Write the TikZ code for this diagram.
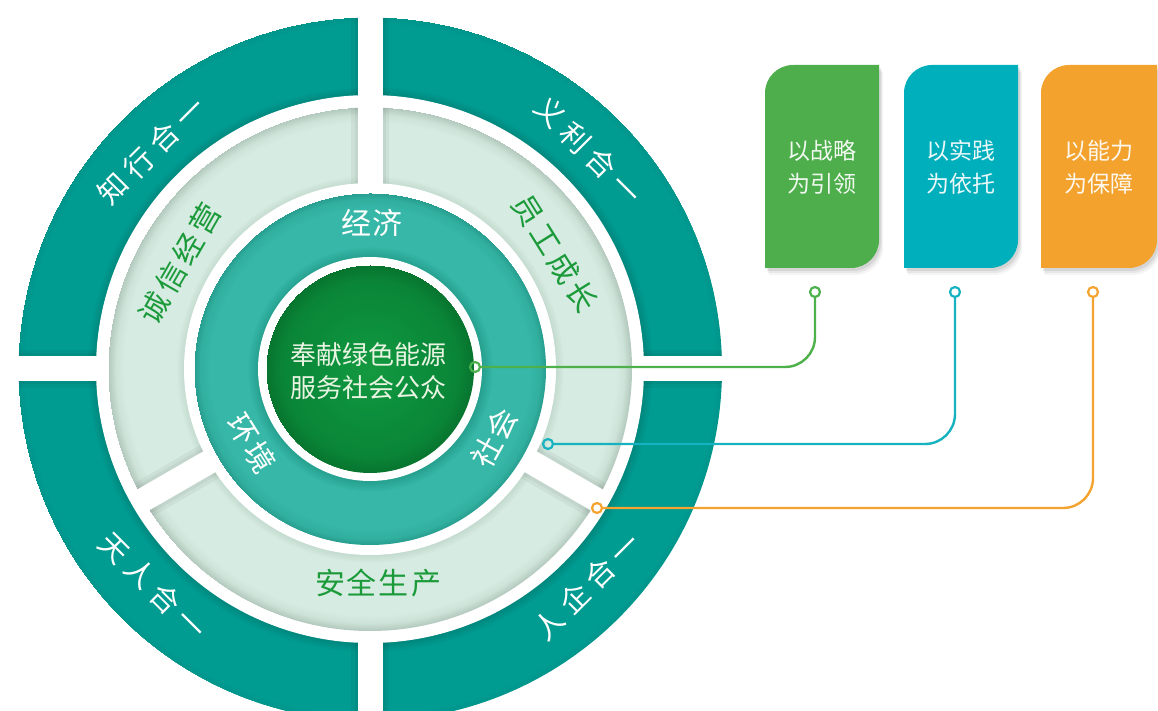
\documentclass[tikz,border=0pt]{standalone}
\usepackage{fontspec}
\setmainfont{Noto Sans CJK SC}
\usetikzlibrary{calc}

\definecolor{oA}{HTML}{00877D}
\definecolor{oB}{HTML}{009B91}
\definecolor{oC}{HTML}{00958B}
\definecolor{lA}{HTML}{C4DBCF}
\definecolor{lB}{HTML}{D6EBE1}
\definecolor{lC}{HTML}{CEE3D8}
\definecolor{lD}{HTML}{B3C8BD}
\definecolor{tA}{HTML}{26A08F}
\definecolor{tB}{HTML}{36B7A7}
\definecolor{tC}{HTML}{31AF9F}
\definecolor{tD}{HTML}{279D8E}
\definecolor{gA}{HTML}{14993F}
\definecolor{gB}{HTML}{0C8F3C}
\definecolor{gC}{HTML}{0A8537}
\definecolor{gD}{HTML}{07742E}
\definecolor{ringtext}{HTML}{1B9A3A}
\definecolor{boxgreen}{HTML}{4DAE4B}
\definecolor{boxteal}{HTML}{00AFBC}
\definecolor{boxorange}{HTML}{F2A22D}
\definecolor{linegreen}{HTML}{4DB04B}
\definecolor{lineteal}{HTML}{17B2C0}
\definecolor{lineorange}{HTML}{F4A330}
\definecolor{centertext}{HTML}{E9F4E2}

% radial shadings with stops at the real radii
\pgfdeclareradialshading{outershade}{\pgfpoint{0pt}{0pt}}{color(0pt)=(oA); color(274pt)=(oA); color(283pt)=(oB); color(345pt)=(oB); color(352pt)=(oC)}
\pgfdeclareradialshading{lightshade}{\pgfpoint{0pt}{0pt}}{color(0pt)=(lA); color(186pt)=(lA); color(194pt)=(lB); color(246pt)=(lB); color(254pt)=(lC); color(262pt)=(lD)}
\pgfdeclareradialshading{tealshade}{\pgfpoint{0pt}{0pt}}{color(0pt)=(tA); color(112pt)=(tA); color(123pt)=(tB); color(160pt)=(tB); color(170pt)=(tC); color(176pt)=(tD)}
\pgfdeclareradialshading{greenshade}{\pgfpoint{0pt}{0pt}}{color(0pt)=(gA); color(45pt)=(gB); color(88pt)=(gC); color(104pt)=(gD)}

\newcommand{\lsp}[1]{\hspace{#1pt}}
\newcommand{\boxpath}[4]{(#1,#2) -- (#1,#4-28) arc[start angle=180,end angle=90,radius=28] -- (#3,#4) -- (#3,#2+28) arc[start angle=0,end angle=-90,radius=28] -- cycle}

\tikzset{
  shadebox/.style={inner sep=0pt, outer sep=0pt},
  outerlbl/.style={text=white, font=\fontsize{29}{34}\selectfont, inner sep=0pt},
  lightlbl/.style={text=ringtext, font=\fontsize{30}{36}\selectfont, inner sep=0pt},
  teallbl/.style={text=white, font=\fontsize{30}{36}\selectfont, inner sep=0pt},
  centerlbl/.style={text=centertext, font=\fontsize{26}{33}\selectfont, align=center, inner sep=0pt},
  boxlbl/.style={text=white, text opacity=0.92, font=\fontsize{23}{33}\selectfont, align=center, inner sep=0pt},
  gapband/.style={fill=white},
  gapshadow/.style={fill=black, opacity=0.045},
  dotstyle/.style={circle, draw=#1, line width=2.2pt, inner sep=0pt, minimum size=10pt},
  connector/.style={draw=#1, line width=2.4pt, rounded corners=30pt},
}

\begin{document}
\begin{tikzpicture}[x=1pt,y=1pt]
\useasboundingbox (0,0) rectangle (1158,710);
\clip (0,0) rectangle (1158,710);
\coordinate (C) at (370,341);

% rings
\begin{scope}
  \clip (C) circle (352);
  \node[shadebox] (ringouter) at (C) {\pgfuseshading{outershade}};
\end{scope}
\fill[white] (C) circle (274);
\begin{scope}
  \clip (C) circle (262);
  \node[shadebox] (ringlight) at (C) {\pgfuseshading{lightshade}};
\end{scope}
\fill[white] (C) circle (186);
\begin{scope}
  \clip (C) circle (176);
  \node[shadebox] (ringteal) at (C) {\pgfuseshading{tealshade}};
\end{scope}
\fill[white] (C) circle (112);
\begin{scope}
  \clip (C) circle (104);
  \node[shadebox] (coredisk) at (C) {\pgfuseshading{greenshade}};
\end{scope}

% soft shadows along the gaps
\begin{scope}[even odd rule]
  \clip (C) circle (352) (C) circle (274);
  \foreach \a in {0,90,180,270}{
    \fill[gapshadow, shift={(C)}, rotate=\a] (267,-19) rectangle (360,19);
    \fill[gapshadow, shift={(C)}, rotate=\a] (267,-15.5) rectangle (360,15.5);
  }
\end{scope}
\begin{scope}[even odd rule]
  \clip (C) circle (262) (C) circle (186);
  \foreach \a in {90,210,330}{
    \fill[gapshadow, shift={(C)}, rotate=\a] (180,-19) rectangle (268,19);
    \fill[gapshadow, shift={(C)}, rotate=\a] (180,-15.5) rectangle (268,15.5);
  }
\end{scope}

% gaps
\foreach \a in {0,180,270}{
  \fill[gapband, shift={(C)}, rotate=\a] (267,-12.5) rectangle (360,12.5);
}
\fill[gapband, shift={(C)}, rotate=90] (180,-12.5) rectangle (360,12.5);
\foreach \a in {210,330}{
  \fill[gapband, shift={(C)}, rotate=\a] (180,-12) rectangle (268,12);
}

% outer ring labels
\node[outerlbl, rotate=45]  (zhixing) at ($(C)+(135:309)$) {知\lsp{7}行\lsp{7}合\lsp{7}一};
\node[outerlbl, rotate=-45] (yili)    at ($(C)+(45:309)$)  {义\lsp{7}利\lsp{7}合\lsp{7}一};
\node[outerlbl, rotate=-45] (tianren) at ($(C)+(225:307)$) {天\lsp{7}人\lsp{7}合\lsp{7}一};
\node[outerlbl, rotate=45]  (renqi)   at ($(C)+(315:307)$) {人\lsp{7}企\lsp{7}合\lsp{7}一};

% light ring labels
\node[lightlbl, rotate=60]  (chengxin) at ($(C)+(151:218)$) {诚\lsp{4}信\lsp{4}经\lsp{4}营};
\node[lightlbl, rotate=-58] (yuangong) at ($(C)+(32:218)$)  {员\lsp{4}工\lsp{4}成\lsp{4}长};
\node[lightlbl] (anquan) at (378,127) {安\lsp{2}全\lsp{2}生\lsp{2}产};

% teal ring labels
\node[teallbl] (jingji) at (372,487) {经\lsp{2}济};
\node[teallbl, rotate=-58] (huanjing) at ($(C)+(212:140)$) {环\lsp{2}境};
\node[teallbl, rotate=61]  (shehui)   at ($(C)+(331:142)$) {社\lsp{2}会};

% center text
\node[centerlbl] (core) at (368,339) {奉献绿色能源\\服务社会公众};

% boxes with soft shadows
\foreach \xa/\xb/\col in {765/879/boxgreen, 904/1018/boxteal, 1041/1157/boxorange}{
  \foreach \s/\o in {7/0.04, 5/0.06, 3/0.08}{
    \fill[black, opacity=\o, shift={(\s*0.6,-\s)}] \boxpath{\xa}{442}{\xb}{645};
  }
  \fill[\col] \boxpath{\xa}{442}{\xb}{645};
}
\node[boxlbl] (box1) at (822,543) {以战略\\为引领};
\node[boxlbl] (box2) at (961,543) {以实践\\为依托};
\node[boxlbl] (box3) at (1099,543) {以能力\\为保障};

% connectors
\node[dotstyle=linegreen]  (gtop) at (815,418) {};
\node[dotstyle=linegreen]  (gend) at (475,343) {};
\node[dotstyle=lineteal]   (ttop) at (955,418) {};
\node[dotstyle=lineteal]   (tend) at (548,266) {};
\node[dotstyle=lineorange] (otop) at (1093,418) {};
\node[dotstyle=lineorange] (oend) at (597,202) {};
\draw[connector=linegreen]  (gtop.south) |- (gend.east);
\draw[connector=lineteal]   (ttop.south) |- (tend.east);
\draw[connector=lineorange] (otop.south) |- (oend.east);
\end{tikzpicture}
\end{document}
